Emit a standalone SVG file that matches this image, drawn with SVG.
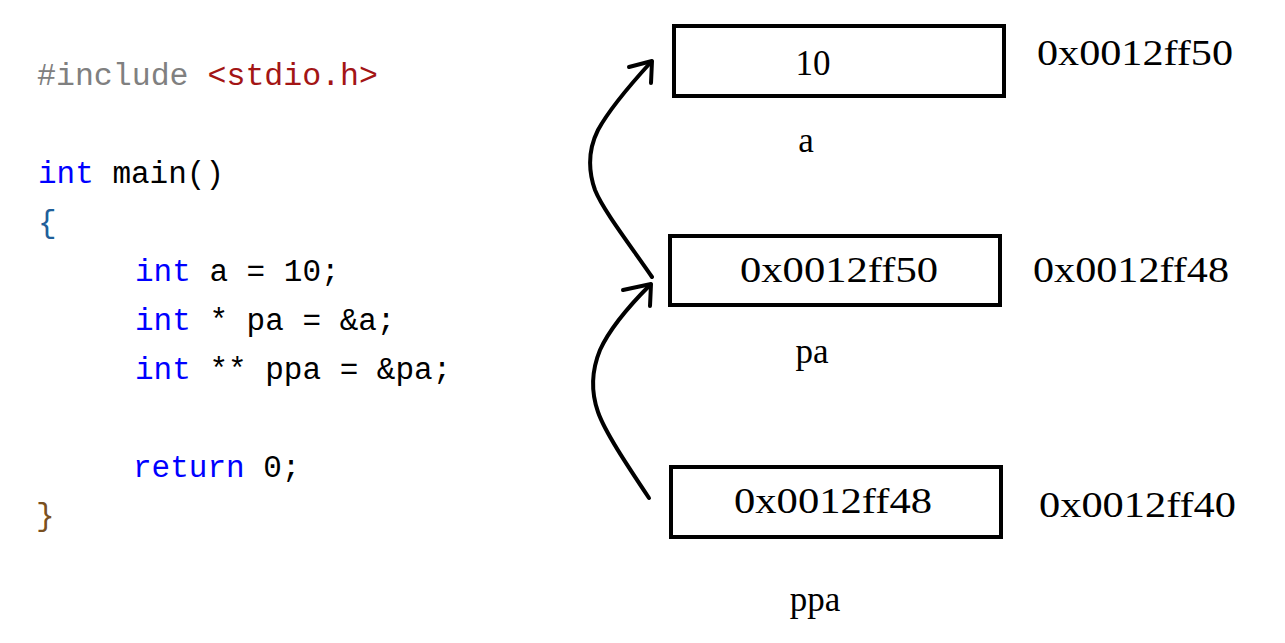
<svg xmlns="http://www.w3.org/2000/svg" width="1285" height="643" viewBox="0 0 1285 643">
<style>
.code{font-family:"Liberation Mono","DejaVu Sans Mono",monospace;font-size:31px;fill:#000;white-space:pre}
.kw{fill:#0000ff}
.pp{fill:#808080}
.str{fill:#a31515}
.lbl{font-family:"Liberation Serif","DejaVu Serif",serif;font-size:35px;fill:#000}
.box{fill:none;stroke:#000;stroke-width:4}
.conn{fill:none;stroke:#000;stroke-width:4;stroke-linecap:round;stroke-linejoin:round}
</style>
<rect width="1285" height="643" fill="#fff"/>
<g id="code">
<text class="code" x="37" y="85" textLength="341" lengthAdjust="spacingAndGlyphs" xml:space="preserve"><tspan class="pp">#include </tspan><tspan class="str">&lt;stdio.h&gt;</tspan></text>
<text class="code" x="38" y="183" xml:space="preserve"><tspan class="kw">int</tspan> main()</text>
<text class="code" x="38" y="232" style="fill:#1f5f9a">{</text>
<text class="code" x="135" y="281" xml:space="preserve"><tspan class="kw">int</tspan> a = 10;</text>
<text class="code" x="135" y="330" xml:space="preserve"><tspan class="kw">int</tspan> * pa = &amp;a;</text>
<text class="code" x="135" y="379" xml:space="preserve"><tspan class="kw">int</tspan> ** ppa = &amp;pa;</text>
<text class="code" x="133" y="477" xml:space="preserve"><tspan class="kw">return</tspan> 0;</text>
<text class="code" x="36" y="525" style="fill:#7a5020">}</text>
</g>
<g id="node-a">
<rect class="box" x="674" y="26" width="330" height="70"/>
<text class="lbl" x="813" y="75" text-anchor="middle">10</text>
<text class="lbl" x="806" y="152" text-anchor="middle">a</text>
<text class="lbl" x="1037" y="65" textLength="196" lengthAdjust="spacingAndGlyphs">0x0012ff50</text>
</g>
<g id="node-pa">
<rect class="box" x="670" y="236" width="330" height="69"/>
<text class="lbl" x="740" y="282" textLength="198" lengthAdjust="spacingAndGlyphs">0x0012ff50</text>
<text class="lbl" x="812" y="363" text-anchor="middle">pa</text>
<text class="lbl" x="1033" y="282" textLength="196" lengthAdjust="spacingAndGlyphs">0x0012ff48</text>
</g>
<g id="node-ppa">
<rect class="box" x="671" y="467" width="330" height="70"/>
<text class="lbl" x="734" y="513" textLength="198" lengthAdjust="spacingAndGlyphs">0x0012ff48</text>
<text class="lbl" x="815" y="611" text-anchor="middle">ppa</text>
<text class="lbl" x="1039" y="517" textLength="197" lengthAdjust="spacingAndGlyphs">0x0012ff40</text>
</g>
<g id="connectors">
<path class="conn" d="M652,277 C630,245 603,210 595,190 C588,170 588,150 598,130 C610,108 630,85 651,62"/>
<path class="conn" d="M629,67 L652,61 L651,83"/>
<path class="conn" d="M649,498 C627,465 605,432 598,412 C591,392 591,372 600,350 C610,328 630,305 650,285"/>
<path class="conn" d="M623,290 L651,284 L650,306"/>
</g>
</svg>
